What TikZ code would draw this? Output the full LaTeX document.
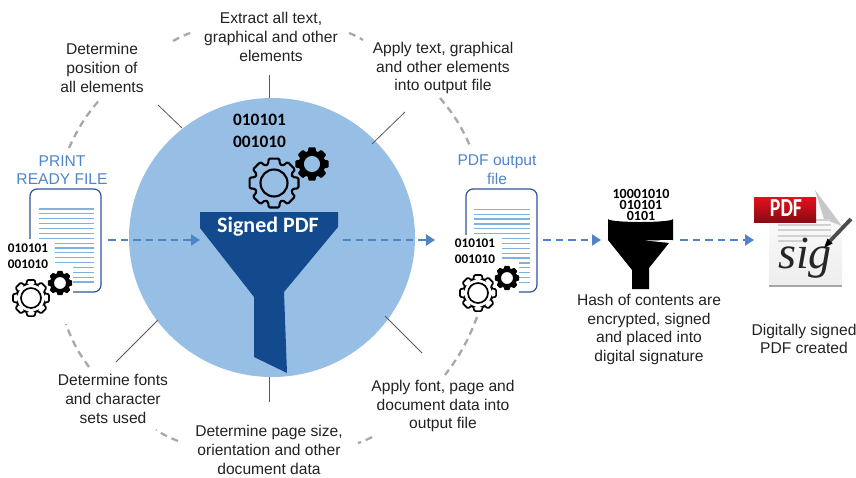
\documentclass[tikz,border=0pt]{standalone}
\usepackage{fontspec}
\setmainfont{Liberation Sans}
\newfontfamily\carlito{Carlito}
\newfontfamily\sigfont{Liberation Serif}
\usepackage{xcolor}
\usetikzlibrary{arrows.meta}
\definecolor{circleblue}{HTML}{97BFE6}
\definecolor{funnelblue}{HTML}{134A8E}
\definecolor{flowblue}{HTML}{4F84C9}
\definecolor{docblue}{HTML}{2F5496}
\definecolor{lineblue}{HTML}{7FB2E0}
\definecolor{ringgray}{HTML}{A8A8A8}
\definecolor{labeltext}{HTML}{222222}
\definecolor{bannertop}{HTML}{E3101E}
\definecolor{bannerbottom}{HTML}{8B0A12}
\tikzset{
  caption/.style={font=\fontsize{15.6}{18.7}\selectfont, text=labeltext, align=center, inner sep=0pt},
  doccaption/.style={caption, text=flowblue},
  bits/.style={font=\carlito\bfseries\fontsize{#1}{#1}\selectfont, text=black, inner sep=0pt},
  flow/.style={draw=flowblue, line width=2.1pt, dash pattern=on 7.5pt off 5pt, -{Triangle[length=9pt,width=11pt]}},
  ring/.style={draw=ringgray, line width=2.3pt, dash pattern=on 7pt off 5pt},
  tick/.style={draw=black!65, line width=0.8pt},
  docline/.style={draw=lineblue, line width=1.2pt},
  pageline/.style={draw=black!18, line width=2.2pt},
  bigcog/.pic={
    \draw[rounded corners=1.2pt] (-18:.78) \foreach \a in {0,45,...,315} {
      -- (\a-12:1) -- (\a+12:1) -- (\a+18:.78) -- (\a+27:.78) } -- cycle;
    \draw (0,0) circle[radius=.54];
  },
  smallcog/.pic={
    \fill[even odd rule, rounded corners=.8pt] (-18:.78) \foreach \a in {0,45,...,315} {
      -- (\a-12:1) -- (\a+12:1) -- (\a+18:.78) -- (\a+27:.78) } -- cycle
      (0,0) circle[radius=.48];
  }
}
\begin{document}
\begin{tikzpicture}[x=1pt, y=-1pt]
  \useasboundingbox (0,0) rectangle (856,477);

  % Circle and funnel
  \fill[circleblue] (272,237.5) ellipse[x radius=143, y radius=139.5];
  \fill[funnelblue] (200,212) -- (338,212) -- (338,227) -- (284,292) -- (287,373)
    -- (254,357) -- (254,297) -- (200,228) -- cycle;
  \node[font=\carlito\bfseries\fontsize{22}{22}\selectfont, text=white, inner sep=0pt] (title) at (268,227) {Signed PDF};
  \node[bits=17.4] (bitsA) at (259.5,120) {010101};
  \node[bits=17.4] (bitsB) at (259.5,142) {001010};
  \pic[scale=25, line width=2.1pt] at (274,183) {bigcog};
  \pic[scale=17] at (312,164) {smallcog};

  % Ticks
  \coordinate (tickA) at (158,105);
  \coordinate (tickB) at (182,128);
  \coordinate (tickC) at (269,75);
  \coordinate (tickD) at (269,98);
  \coordinate (tickE) at (405,112);
  \coordinate (tickF) at (372,144);
  \coordinate (tickG) at (422,353);
  \coordinate (tickH) at (385,316);
  \coordinate (tickI) at (269,402);
  \coordinate (tickJ) at (269,377);
  \coordinate (tickK) at (116,362);
  \coordinate (tickL) at (158,320);
  \draw[tick] (tickA) -- (tickB);
  \draw[tick] (tickC) -- (tickD);
  \draw[tick] (tickE) -- (tickF);
  \draw[tick] (tickG) -- (tickH);
  \draw[tick] (tickI) -- (tickJ);
  \draw[tick] (tickK) -- (tickL);

  % Outer ring
  \coordinate (ringA) at (69,148);
  \coordinate (ringB) at (101,98);
  \coordinate (ringC) at (173,41);
  \coordinate (ringD) at (193,32);
  \coordinate (ringE) at (349,33);
  \coordinate (ringF) at (363,40);
  \coordinate (ringG) at (440,98);
  \coordinate (ringH) at (470,146);
  \coordinate (ringI) at (477,317);
  \coordinate (ringJ) at (445,375);
  \coordinate (ringK) at (372,437);
  \coordinate (ringL) at (358,443);
  \coordinate (ringM) at (178,441);
  \coordinate (ringN) at (156,430);
  \coordinate (ringO) at (89,367);
  \coordinate (ringP) at (66,324);
  \draw[ring] (ringA) to[bend left=8] (ringB);
  \draw[ring] (ringC) to[bend left=5] (ringD);
  \draw[ring] (ringE) to[bend left=5] (ringF);
  \draw[ring] (ringG) to[bend left=8] (ringH);
  \draw[ring] (ringI) to[bend left=8] (ringJ);
  \draw[ring] (ringK) to[bend left=5] (ringL);
  \draw[ring] (ringM) to[bend left=5] (ringN);
  \draw[ring] (ringO) to[bend left=8] (ringP);

  % Labels round the circle
  \node[caption] (extract) at (271,37) {Extract all text,\\graphical and other\\elements};
  \node[caption] (position) at (102,68) {Determine\\position of\\all elements};
  \node[caption] (apply) at (443,68) {Apply text, graphical\\and other elements\\into output file};
  \node[caption] (fonts) at (113,399) {Determine fonts\\and character\\sets used};
  \node[caption] (pagesize) at (269,450) {Determine page size,\\orientation and other\\document data};
  \node[caption] (applyfont) at (443,406) {Apply font, page and\\document data into\\output file};

  % Print ready file
  \node[doccaption] (printfile) at (62,170) {PRINT\\READY FILE};
  \draw[docblue, line width=1.2pt, rounded corners=7pt] (30,239) -- (30,189) -- (101,189) -- (101,292) -- (73,292);
  \foreach \y in {209,213.87,...,238.5} \draw[docline] (39,\y) -- (94,\y);
  \foreach \y in {243.1,247.97,...,263} \draw[docline] (55,\y) -- (94,\y);
  \foreach \y in {267.4,272.27,...,282.5} \draw[docline] (73,\y) -- (94,\y);
  \node[bits=13.2] (bitsC) at (28,248) {010101};
  \node[bits=13.2] (bitsD) at (28,264) {001010};
  \pic[scale=18.5, line width=1.7pt] at (31,298) {bigcog};
  \pic[scale=12.5] at (60,283) {smallcog};

  % Output file
  \node[doccaption] (outfile) at (497,170) {PDF output\\file};
  \draw[docblue, line width=1.2pt, rounded corners=7pt] (466,235) -- (466,189) -- (537,189) -- (537,292) -- (519,292);
  \foreach \y in {209.3,214.17,...,234} \draw[docline] (474,\y) -- (530,\y);
  \foreach \y in {238.5,243.37,...,258.5} \draw[docline] (502,\y) -- (530,\y);
  \foreach \y in {262.9,267.77,...,283} \draw[docline] (519,\y) -- (530,\y);
  \node[bits=13.2] (bitsE) at (475,243) {010101};
  \node[bits=13.2] (bitsF) at (475,259) {001010};
  \pic[scale=18.5, line width=1.7pt] at (478,293) {bigcog};
  \pic[scale=12.5] at (507,278) {smallcog};

  % Black funnel
  \fill[black] (608,219) arc[start angle=180, end angle=0, x radius=32.5, y radius=3] -- (673,240)
    -- (669,243) -- (649,268) -- (649,289) -- (632,289) -- (632,270) -- (608,240) -- cycle;
  \fill[white] (641,219.5) ellipse[x radius=28, y radius=1.2];
  \fill[white] (646,240.5) -- (673,240) -- (670,243) -- cycle;
  \fill[white] (625,211) rectangle (655,220);
  \node[font=\carlito\bfseries\fontsize{14}{11.2}\selectfont, text=black, inner sep=0pt, align=center] (bitsG) at (641,204.7) {10001010\\010101\\0101};
  \node[caption] (hash) at (649,329.5) {Hash of contents are\\encrypted, signed\\and placed into\\digital signature};

  % Signed PDF icon
  \shade[top color=white, bottom color=black!7] (769,190) -- (815,190) -- (842,226) -- (842,286) -- (769,286) -- cycle;
  \fill[black!35] (769,285) rectangle (842,287);
  \fill[black!22] (815,190) -- (842,226) -- (824,219) -- cycle;
  \draw[pageline] (816,220) -- (831,220);
  \draw[pageline] (778,225) -- (831,225);
  \draw[pageline] (778,230) -- (831,230);
  \draw[pageline] (778,236) -- (831,236);
  \draw[pageline] (778,241) -- (802,241);
  \shade[top color=bannertop, bottom color=bannerbottom] (754,197) rectangle (816,222);
  \node[font=\carlito\bfseries\fontsize{26}{26}\selectfont, text=white, inner sep=0pt, xscale=.76] (pdfmark) at (786,208) {PDF};
  \node[font=\sigfont\itshape\fontsize{46}{46}\selectfont, text=black!85, inner sep=0pt] (sig) at (805,258) {sig};
  \draw[black!70, line width=3.8pt] (851,219) -- (830,241);
  \fill[black] (832.5,243.5) -- (827.5,238.5) -- (824,248) -- cycle;
  \node[caption] (signed) at (804,339) {Digitally signed\\PDF created};

  % Flow arrows
  \coordinate (flowA) at (108,240);
  \coordinate (flowB) at (200,240);
  \coordinate (flowC) at (343,240);
  \coordinate (flowD) at (435,240);
  \coordinate (flowE) at (543,240);
  \coordinate (flowF) at (601,240);
  \coordinate (flowG) at (680,240);
  \coordinate (flowH) at (754,240);
  \draw[flow] (flowA) -- (flowB);
  \draw[flow] (flowC) -- (flowD);
  \draw[flow] (flowE) -- (flowF);
  \draw[flow] (flowG) -- (flowH);

\end{tikzpicture}
\end{document}
